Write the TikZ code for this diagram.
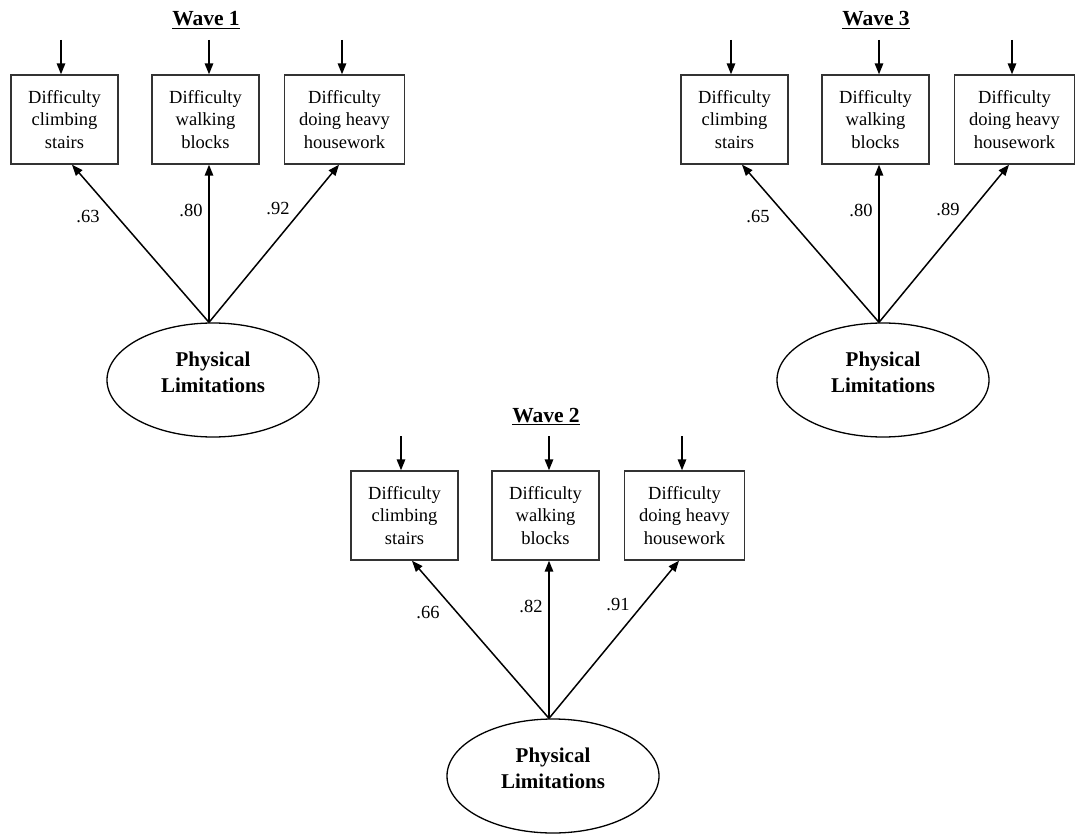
\documentclass[tikz,border=0pt]{standalone}
\usepackage{fontspec}
\setmainfont{Liberation Serif}
\usetikzlibrary{arrows.meta,shapes.geometric}

\tikzset{
  ind/.style={draw=black!80, line width=1.4pt, fill=white, align=center,
    minimum width=107pt, minimum height=89pt, inner sep=2pt,
    font=\fontsize{18.5}{22.5}\selectfont},
  latent/.style={draw=black, line width=1.3pt, ellipse,
    minimum width=212pt, minimum height=114pt, inner sep=0pt},
  lattext/.style={align=center, inner sep=0pt,
    font=\fontsize{21}{26}\selectfont\bfseries},
  wavetitle/.style={anchor=base, inner sep=0pt,
    font=\fontsize{21.5}{24}\selectfont\bfseries},
  loading/.style={inner sep=1pt, font=\fontsize{18.5}{22}\selectfont},
  arr/.style={line width=1.5pt, -{Triangle[length=11pt,width=8.5pt]}}
}

% One measurement model: three indicators loading on one latent factor
\newcommand{\wavepanel}[6]{%
  \begin{scope}[shift={(#2)}]
    \node[wavetitle] (#1t) at (206,26) {\underline{Wave #3}};
    \node[ind] (#1b1) at (64.5,119.5) {Difficulty\\climbing\\stairs};
    \node[ind] (#1b2) at (205.5,119.5) {Difficulty\\walking\\blocks};
    \node[ind, minimum width=120pt] (#1b3) at (344.5,119.5) {Difficulty\\doing heavy\\housework};
    % error terms
    \coordinate (#1e1) at (61,40);
    \coordinate (#1e2) at (209,40);
    \coordinate (#1e3) at (342,40);
    \draw[arr] (#1e1) -- (#1e1 |- #1b1.north);
    \draw[arr] (#1e2) -- (#1e2 |- #1b2.north);
    \draw[arr] (#1e3) -- (#1e3 |- #1b3.north);
    % latent factor
    \node[latent] (#1l) at (213,380) {};
    \node[lattext] (#1lt) at (213,372) {Physical\\Limitations};
    \coordinate (#1p) at ([xshift=-4pt]#1l.north);
    \coordinate (#1a1) at (72,0);
    \coordinate (#1a2) at (209,0);
    \coordinate (#1a3) at (339,0);
    \draw[arr] (#1p) -- (#1b1.south -| #1a1);
    \draw[arr] (#1p) -- (#1b2.south -| #1a2);
    \draw[arr] (#1p) -- (#1b3.south -| #1a3);
    % standardized loadings
    \node[loading] (#1n1) at (88,217) {#4};
    \node[loading] (#1n2) at (191,210) {#5};
    \node[loading] (#1n3) at (278,209) {#6};
  \end{scope}}

\begin{document}
\begin{tikzpicture}[x=1pt, y=-1pt]
  \useasboundingbox (0,0) rectangle (1076,837);
  \wavepanel{wa}{0,0}{1}{.63}{.80}{.92}
  \wavepanel{wc}{670,0}{3}{.65}{.80}{.89}
  \wavepanel{wb}{340,396}{2}{.66}{.82}{.91}
\end{tikzpicture}
\end{document}
